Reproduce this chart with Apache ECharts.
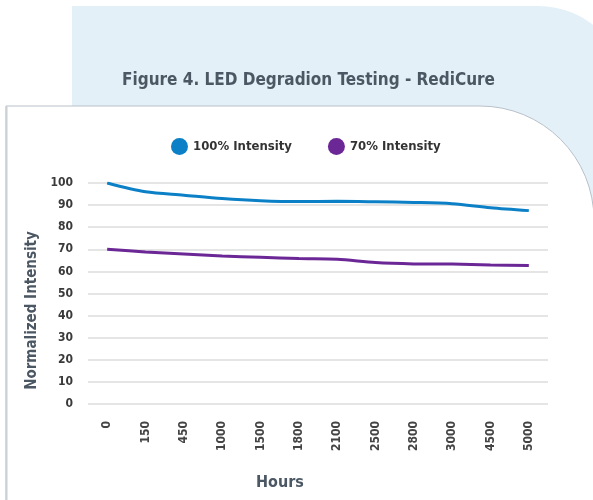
<!doctype html>
<html>
    <head>
        <meta charset="utf-8">
        <title>LED Degradion Testing - RediCure</title>
        <style>
            html, body { margin: 0; padding: 0; background: #fff; }
            #main { width: 593px; height: 500px; }
        </style>
    </head>
    <body>
        <div id="main"></div>
        <script src="https://cdn.jsdelivr.net/npm/echarts@6/dist/echarts.min.js"></script>
        <script>
            var hours = ['0', '150', '450', '1000', '1500', '1800', '2100', '2500', '2800', '3000', '4500', '5000'];
            var full = [100, 96, 94.5, 93, 92, 91.6, 91.7, 91.5, 91.2, 90.6, 88.8, 87.5];
            var seventy = [70, 68.8, 67.9, 67, 66.4, 65.8, 65.5, 64, 63.4, 63.3, 62.9, 62.7];
            var yTicks = { min: 0, max: 100, interval: 10 };

            var font = '"DejaVu Sans Condensed", "Liberation Sans Narrow", Roboto, sans-serif';
            var ink = '#4b5763';

            var chart = echarts.init(document.getElementById('main'));

            chart.setOption({
                animation: false,
                textStyle: { fontFamily: font },
                graphic: [
                    {
                        // light blue card behind
                        type: 'rect',
                        z: -20,
                        shape: { x: 72, y: 6, width: 556, height: 600, r: [0, 90, 0, 0] },
                        style: { fill: '#e4f0f8' }
                    },
                    {
                        // white chart panel
                        type: 'rect',
                        z: -10,
                        shape: { x: 6, y: 106, width: 588, height: 420, r: [0, 114, 0, 0] },
                        style: { fill: '#ffffff', stroke: '#b9c1c9', lineWidth: 1 }
                    },
                    {
                        type: 'line',
                        z: -9,
                        shape: { x1: 6.5, y1: 106, x2: 6.5, y2: 500 },
                        style: { stroke: '#c9d0d6', lineWidth: 2 }
                    }
                ],
                title: {
                    text: 'Figure 4. LED Degradion Testing - RediCure',
                    left: 117,
                    top: 67,
                    textStyle: { fontFamily: font, fontSize: 17, fontWeight: 'bold', color: ink }
                },
                legend: {
                    top: 133,
                    left: 166,
                    icon: 'circle',
                    itemWidth: 17,
                    itemHeight: 17,
                    itemGap: 36,
                    itemStyle: { borderWidth: 0 },
                    textStyle: { fontFamily: font, fontSize: 13, fontWeight: 'bold', color: '#333' },
                    data: ['100% Intensity', '70% Intensity']
                },
                grid: { left: 88, right: 45, top: 183, bottom: 96 },
                xAxis: {
                    type: 'category',
                    data: hours,
                    boundaryGap: true,
                    name: 'Hours',
                    nameLocation: 'middle',
                    nameGap: 71,
                    nameTextStyle: { fontFamily: font, fontSize: 16, fontWeight: 'bold', color: ink, padding: [0, 76, 0, 0] },
                    axisLine: { show: false },
                    axisTick: { show: false },
                    axisLabel: { rotate: 90, margin: 17, fontSize: 12, fontWeight: 'bold', color: '#444', interval: 0 }
                },
                yAxis: {
                    type: 'value',
                    min: yTicks.min,
                    max: yTicks.max,
                    interval: yTicks.interval,
                    name: 'Normalized Intensity',
                    nameLocation: 'middle',
                    nameGap: 43,
                    nameTextStyle: { fontFamily: font, fontSize: 15, fontWeight: 'bold', color: ink, padding: [0, 34, 0, 0] },
                    axisLabel: { margin: 15, fontSize: 12, fontWeight: 'bold', color: '#3a3a3a' },
                    splitLine: { lineStyle: { color: '#dddddd', width: 1.5 } }
                },
                series: [
                    {
                        name: '100% Intensity',
                        type: 'line',
                        data: full,
                        smooth: 0.3,
                        symbol: 'none',
                        color: '#0b80c6',
                        lineStyle: { width: 3 }
                    },
                    {
                        name: '70% Intensity',
                        type: 'line',
                        data: seventy,
                        smooth: 0.3,
                        symbol: 'none',
                        color: '#6b2796',
                        lineStyle: { width: 3 }
                    }
                ]
            });

            window.addEventListener('resize', function () {
                chart.resize();
            });
        </script>
    </body>
</html>
